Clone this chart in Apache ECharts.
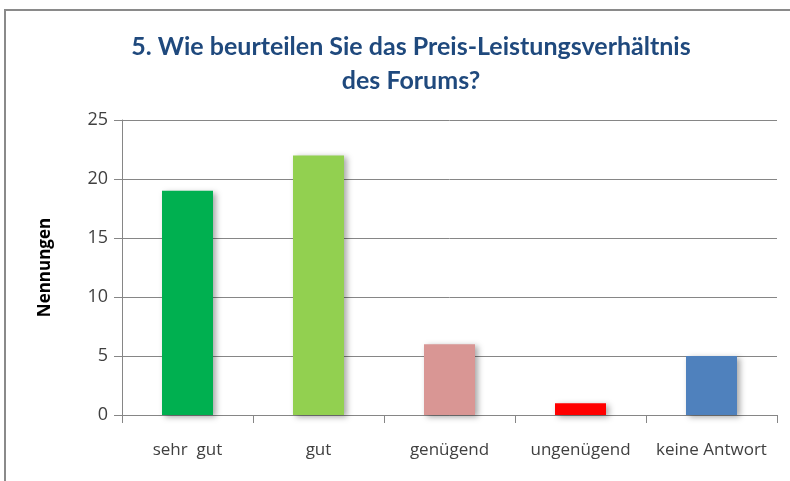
<!DOCTYPE html>
<html>
<head>
<meta charset="utf-8">
<script src="https://cdn.jsdelivr.net/npm/echarts@6/dist/echarts.min.js"></script>
<style>
  body { margin: 0; background: #fff; }
  .frame {
    position: absolute; left: 4px; top: 9px; width: 820px; height: 520px;
    border: 2px solid #8a8a8a;
  }
  #chart { position: absolute; left: 0; top: 0; width: 790px; height: 481px; }
</style>
</head>
<body>
<div class="frame"></div>
<div id="chart"></div>
<script>
// Daten
const kategorien = ['sehr  gut', 'gut', 'genügend', 'ungenügend', 'keine Antwort']
const nennungen = [19, 22, 6, 1, 5]
const farben = ['#00b050', '#92d050', '#d99694', '#ff0000', '#4f81bd']

const chart = echarts.init(document.getElementById('chart'))

chart.setOption({
  animation: false,
  title: {
    text: '5. Wie beurteilen Sie das Preis-Leistungsverhältnis\ndes Forums?',
    left: 406,
    top: 25,
    textAlign: 'center',
    textStyle: {
      fontFamily: 'Lato',
      fontWeight: 'bold',
      fontSize: 25,
      lineHeight: 34,
      color: '#1f497d'
    }
  },
  grid: {
    left: 122,
    right: 13,
    top: 120,
    bottom: 66
  },
  xAxis: {
    type: 'category',
    data: kategorien,
    axisLine: { lineStyle: { color: '#868686', width: 1 } },
    axisTick: { show: true, length: 8, lineStyle: { color: '#868686' } },
    axisLabel: {
      interval: 0,
      margin: 27,
      fontFamily: 'Open Sans',
      fontSize: 17,
      color: '#404040'
    }
  },
  yAxis: {
    type: 'value',
    min: 0,
    max: 25,
    interval: 5,
    name: 'Nennungen',
    nameLocation: 'middle',
    nameGap: 68,
    nameTextStyle: {
      fontFamily: 'Open Sans',
      fontWeight: 'bold',
      fontSize: 17,
      color: '#000'
    },
    axisLine: { show: true, lineStyle: { color: '#868686', width: 1 } },
    axisTick: { show: true, length: 8, lineStyle: { color: '#868686' } },
    axisLabel: {
      margin: 14,
      fontFamily: 'Open Sans',
      fontSize: 18,
      color: '#404040'
    },
    splitLine: { lineStyle: { color: '#868686', width: 1 } }
  },
  series: [
    {
      type: 'bar',
      barWidth: 51,
      data: nennungen.map((v, i) => ({
        value: v,
        itemStyle: { color: farben[i] }
      })),
      itemStyle: {
        shadowColor: 'rgba(0,0,0,0.35)',
        shadowBlur: 6,
        shadowOffsetX: 3,
        shadowOffsetY: 2
      }
    }
  ]
})
</script>
</body>
</html>
